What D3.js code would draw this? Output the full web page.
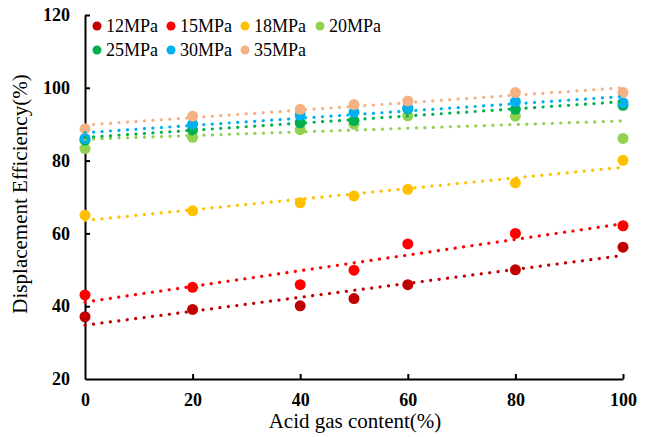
<!DOCTYPE html>
<html><head><meta charset="utf-8">
<script src="https://cdn.jsdelivr.net/npm/d3@7"></script>
<style>
html,body{margin:0;padding:0;background:#fff;}
svg{display:block;}
svg text{font-family:"Liberation Serif","Times New Roman",serif !important;fill:#000;}
</style></head>
<body>
<svg id="chart" width="653" height="437"></svg>
<script>
const xValues = [0, 20, 40, 50, 60, 80, 100];
const seriesNames = ["12MPa", "15MPa", "18MPa", "20MPa", "25MPa", "30MPa", "35MPa"];
const seriesColors = ["#C00000", "#FF0000", "#FFC000", "#92D050", "#00B050", "#00B0F0", "#F4B183"];
const v12 = [37.1, 39.1, 40.1, 42.1, 45.9, 50.0, 56.2];
const v15 = [43.1, 45.2, 45.9, 49.9, 57.1, 60.0, 62.1];
const v18 = [65.0, 66.2, 68.4, 70.3, 72.1, 73.9, 80.1];
const v20 = [83.3, 86.4, 88.5, 90.0, 92.3, 92.2, 86.1];
const v25 = [85.6, 88.4, 90.4, 91.0, 94.2, 94.1, 95.2];
const v30 = [86.1, 90.0, 92.5, 93.3, 94.4, 96.2, 95.9];
const v35 = [88.7, 92.2, 94.1, 95.4, 96.4, 98.7, 98.7];
const seriesValues = [v12, v15, v18, v20, v25, v30, v35];
const xTicks = [0, 20, 40, 60, 80, 100];
const yTicks = [20, 40, 60, 80, 100, 120];
const xTitle = "Acid gas content(%)";
const yTitle = "Displacement Efficiency(%)";

const svg = d3.select("#chart");
const x = d3.scaleLinear().domain([0, 100]).range([85, 623]);
const y = d3.scaleLinear().domain([20, 120]).range([379, 15]);

// axes
const gx = svg.append("g").attr("transform", `translate(0,${y(20)})`)
  .call(d3.axisBottom(x).tickValues(xTicks).tickSizeInner(-5).tickSizeOuter(0).tickPadding(14));
const gy = svg.append("g").attr("transform", `translate(${x(0)},0)`)
  .call(d3.axisLeft(y).tickValues(yTicks).tickSizeInner(-5).tickSizeOuter(0).tickPadding(15));
[gx, gy].forEach(g => {
  g.attr("font-family", null);
  g.select(".domain").attr("stroke", "#000").attr("stroke-width", 2);
  g.selectAll(".tick line").attr("stroke", "#000").attr("stroke-width", 2);
  g.selectAll(".tick text").style("font-family", "'Liberation Serif', serif")
    .style("font-size", "18px").style("font-weight", "bold").attr("fill", "#000");
});
gx.selectAll(".tick").filter(d => d === 0).select("line").remove();
gy.selectAll(".tick").filter(d => d === 20).select("line").remove();

// linear regression helper for trendlines
function fit(xs, ys) {
  const mx = d3.mean(xs), my = d3.mean(ys);
  const sxy = d3.sum(xs, (v, i) => (v - mx) * (ys[i] - my));
  const sxx = d3.sum(xs, v => (v - mx) * (v - mx));
  const b = sxy / sxx;
  return { a: my - b * mx, b };
}

const plot = svg.append("g");
seriesValues.forEach((vals, si) => {
  plot.append("g").selectAll("circle").data(vals).join("circle")
    .attr("cx", (d, i) => x(xValues[i])).attr("cy", d => y(d))
    .attr("r", 5.5).attr("fill", seriesColors[si]);
});
const line = d3.line().x(d => x(d[0])).y(d => y(d[1]));
seriesValues.forEach((vals, si) => {
  const f = fit(xValues, vals);
  const pts = [0, 100].map(xx => [xx, f.a + f.b * xx]);
  plot.append("path").attr("d", line(pts)).attr("fill", "none")
    .attr("stroke", seriesColors[si]).attr("stroke-width", 3.2)
    .attr("stroke-linecap", "round").attr("stroke-dasharray", "0.1 8.4");
});

// legend
const legend = svg.append("g");
const legX = [97, 171, 245, 320];
seriesNames.forEach((n, i) => {
  const row = Math.floor(i / 4), col = i % 4;
  const g = legend.append("g").attr("transform", `translate(${legX[col]},${26 + row * 24})`);
  g.append("circle").attr("r", 4.5).attr("fill", seriesColors[i]);
  g.append("text").attr("x", 9).attr("y", 6).style("font-size", "18px").text(n);
});

// titles
svg.append("text").attr("x", 355).attr("y", 428).attr("text-anchor", "middle")
  .style("font-size", "21px").text(xTitle);
svg.append("text").attr("transform", "translate(27,194) rotate(-90)").attr("text-anchor", "middle")
  .style("font-size", "21px").text(yTitle);
</script>
</body></html>
